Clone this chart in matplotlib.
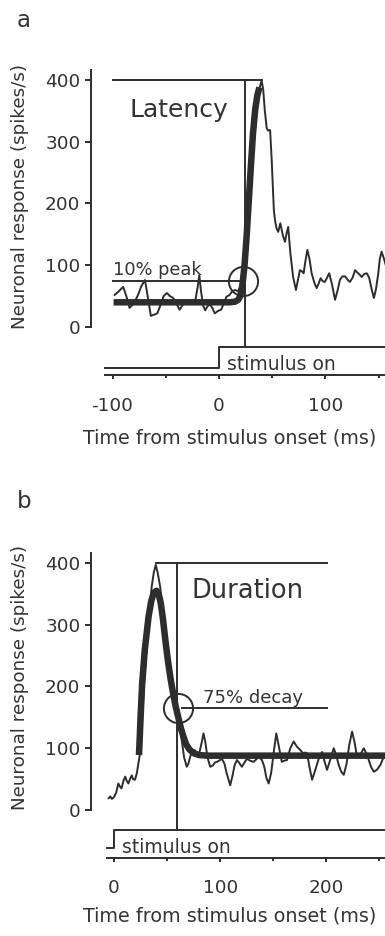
import matplotlib
matplotlib.use('Agg')
import matplotlib.pyplot as plt
from matplotlib.ticker import FixedLocator

plt.rcParams['font.family'] = ['DejaVu Sans']
plt.rcParams['axes.unicode_minus'] = False

# ---------------- data ----------------
# Panel a: raw response (time ms, spikes/s)
a_raw_t = [-98, -94, -90, -87, -84, -80, -76, -73, -69.5, -67, -64, -61, -58, -55, -52, -49, -46, -43,
           -40, -37, -34, -31, -28, -25, -22, -20, -18.5, -17, -15, -13, -11, -8.5, -6, -4, -1, 2, 5, 7,
           10, 12, 15, 18, 20, 22, 24, 26, 29, 31, 34, 37, 40, 41.5, 43, 44.8, 46, 48, 49.5, 51.5, 52.6,
           54, 55.6, 57.6, 60, 62, 63.5, 65, 67, 69.6, 72.3, 74, 76, 78, 79.5, 81, 83, 85, 87, 89.5,
           91.7, 93.5, 95.4, 97.5, 99.4, 101.5, 103.5, 106, 109, 111.5, 113.7, 116, 118.4, 121, 123,
           125.5, 127.8, 130, 132, 134, 136.5, 138.7, 141, 143.5, 145.5, 147.5, 149.6, 151, 152.7, 155, 157]
a_raw_r = [52, 58, 65, 50, 31, 38, 52, 66, 76, 50, 18, 20, 22, 35, 50, 55, 50, 47,
           38, 28, 36, 42, 38, 37, 45, 65, 84, 60, 35, 27, 33, 37, 30, 22, 26, 28, 40, 49,
           52, 57, 60, 58, 65, 80, 110, 160, 217, 265, 324, 379, 399, 385, 351, 322, 318, 319, 270, 190, 173,
           160, 154, 168, 148, 138, 152, 162, 120, 81, 60, 75, 92, 90, 87, 105, 125, 110, 87, 72,
           63, 70, 79, 74, 73, 80, 87, 70, 44, 60, 77, 82, 82, 76, 73,
           80, 92, 88, 85, 81, 86, 87, 80, 60, 47, 62, 87, 110, 122, 110, 98]
# Panel a: fitted latency curve
a_fit_t = [-99, 0, 10, 15, 18, 20, 22, 24, 26, 28, 30, 32, 34, 36, 38]
a_fit_r = [40, 40, 40, 41, 44, 50, 68, 100, 148, 205, 262, 315, 352, 375, 388]

# Panel b: raw response
b_raw_t = [-5, -3.5, -2, 0, 2, 4, 5.5, 7, 9, 10.5, 12, 13.5, 15, 16.7, 18, 19.8, 21.5, 23, 24.5, 27, 30,
           33, 35.5, 37.5, 39.3, 41, 43.4, 46, 49, 52, 55, 58, 60, 62, 64, 66, 68.5, 70, 72, 74, 76, 78,
           80, 82, 84.3, 86, 88, 90.6, 93, 95, 97, 99, 101.6, 104, 106, 109.4, 111.5, 113.5, 115.7, 118,
           120.4, 122.5, 125.2, 128, 131.4, 134, 136, 139.3, 141.5, 143.5, 145.6, 148, 150.5, 152.8, 155,
           158, 160.5, 162.9, 166, 169.2, 172, 175.5, 178, 180, 181.8, 184, 186.5, 189, 192.8, 196, 198,
           200.6, 203, 206.9, 209, 211.6, 214, 216.4, 219, 221.5, 224.2, 226.5, 228.9, 232, 235.2, 237.5,
           239.9, 242, 244.6, 247.5, 250.9, 253, 255.6]
b_raw_r = [19, 22, 18, 21, 28, 43, 38, 35, 48, 54, 47, 43, 50, 56, 50, 49, 60, 76, 92, 170, 250,
           320, 362, 385, 397, 385, 362, 320, 272, 230, 195, 165, 145, 135, 110, 85, 70, 75, 88, 95, 97, 92,
           90, 105, 124, 110, 85, 70, 72, 77, 78, 80, 83, 75, 60, 40, 55, 72, 81, 76,
           70, 76, 83, 80, 78, 82, 86, 81, 70, 52, 43, 60, 95, 124, 105,
           78, 80, 81, 100, 111, 103, 97, 92, 93, 92, 70, 49, 62, 83, 94, 80,
           65, 78, 100, 90, 73, 62, 57, 75, 105, 127, 110, 86, 90, 100, 92,
           81, 70, 62, 65, 73, 82, 89]
# Panel b: fitted duration curve
b_fit_t = [23.5, 25, 26.5, 29, 32.5, 35, 37.5, 40, 42, 44, 46, 48, 50.5, 53, 55.5, 58, 60.5, 63, 65.5,
           68, 71, 75, 80, 88, 256]
b_fit_r = [89, 150, 205, 260, 313, 338, 352, 355, 350, 335, 310, 280, 245, 215, 190, 168, 150, 132, 118,
           106, 98, 92, 89, 88, 88]

# stimulus trace (time, level below axis)
a_stim_t = [-107, 0, 0, 157]
a_stim_y = [-67, -67, -32.4, -32.4]
b_stim_t = [-6.6, 0, 0, 257]
b_stim_y = [-62, -62, -32.4, -32.4]

# criterion markers
a_peak = 400
a_crit_t, a_crit_r = 22.8, 75        # 10% of peak
b_peak = 400
b_crit_t, b_crit_r = 60, 165         # 75% decay

y_ticks = [0, 100, 200, 300, 400]
a_xmajor = [-100, 0, 100]
a_xminor = [-50, 50, 150]
b_xmajor = [0, 100, 200]
b_xminor = [50, 150, 250]

# ---------------- drawing ----------------
LC = '#2d2d2d'
TC = '#333333'
W, H = 385, 936
fig = plt.figure(figsize=(W / 100, H / 100), dpi=100)


def make_axes(top_px, bottom_px, xlim, ylim, xbounds, xmajor, xminor):
    ax = fig.add_axes([91 / W, (H - bottom_px) / H, 294 / W, (bottom_px - top_px) / H])
    ax.set_xlim(*xlim)
    ax.set_ylim(*ylim)
    for s in ['top', 'right']:
        ax.spines[s].set_visible(False)
    for s in ['left', 'bottom']:
        ax.spines[s].set_linewidth(1.4)
        ax.spines[s].set_color(LC)
    ax.spines['left'].set_bounds(0, 416)
    ax.spines['bottom'].set_bounds(*xbounds)
    ax.set_yticks(y_ticks)
    ax.set_xticks(xmajor)
    ax.xaxis.set_minor_locator(FixedLocator(xminor))
    ax.tick_params(axis='y', length=4.3, width=1.4, color=LC, pad=3.3, labelsize=13.3, labelcolor=TC)
    ax.tick_params(axis='x', which='major', length=3.2, width=1.4, color=LC, pad=12.3,
                   labelsize=13.3, labelcolor=TC)
    ax.tick_params(axis='x', which='minor', length=2.4, width=1.4, color=LC)
    ax.patch.set_visible(False)
    return ax


# Panel a
axa = make_axes(67.6, 375, (-120.2, 155.9), (-77.7, 420), (-107, 155.9), a_xmajor, a_xminor)
axa.plot(a_raw_t, a_raw_r, color=LC, lw=1.4, solid_joinstyle='round')
axa.plot(a_fit_t, a_fit_r, color=LC, lw=4.7, solid_capstyle='butt', solid_joinstyle='round')
axa.plot([-99.2, 40.1], [a_peak, a_peak], color=LC, lw=1.4)
axa.plot([24.4, 24.4], [a_peak, -32.4], color=LC, lw=1.4)
axa.plot([-99.2, 19.7], [a_crit_r, a_crit_r], color=LC, lw=1.4)
axa.plot([a_crit_t], [a_crit_r], 'o', ms=21, mfc='none', mec=LC, mew=1.4)
axa.plot(a_stim_t, a_stim_y, color=LC, lw=1.4)
axa.text(-83.6, 340.6, 'Latency', fontsize=18, color=TC, va='baseline', ha='left')
axa.text(-99.5, 84.2, '10% peak', fontsize=12.8, color=TC, va='baseline', ha='left')
axa.text(7.5, -69.6, 'stimulus on', fontsize=13.5, color=TC, va='baseline', ha='left')

# Panel b
axb = make_axes(550.6, 857.7, (-21.7, 255.2), (-77.2, 420), (-6.6, 255.2), b_xmajor, b_xminor)
axb.plot(b_raw_t, b_raw_r, color=LC, lw=1.4, solid_joinstyle='round')
axb.plot(b_fit_t, b_fit_r, color=LC, lw=4.7, solid_capstyle='butt', solid_joinstyle='round')
axb.plot([39.3, 200.6], [b_peak, b_peak], color=LC, lw=1.4)
axb.plot([59.3, 59.3], [b_peak, -32.4], color=LC, lw=1.4)
axb.plot([63.7, 200.6], [b_crit_r, b_crit_r], color=LC, lw=1.4)
axb.plot([b_crit_t], [b_crit_r], 'o', ms=21, mfc='none', mec=LC, mew=1.4)
axb.plot(b_stim_t, b_stim_y, color=LC, lw=1.4)
axb.text(73.2, 343.3, 'Duration', fontsize=18.5, color=TC, va='baseline', ha='left')
axb.text(83.8, 173.8, '75% decay', fontsize=13, color=TC, va='baseline', ha='left')
axb.text(7.3, -69.6, 'stimulus on', fontsize=13.5, color=TC, va='baseline', ha='left')

# labels
fig.text(16.7 / W, 1 - 26.7 / H, 'a', fontsize=16.5, color=TC, va='baseline', ha='left')
fig.text(16.7 / W, 1 - 508 / H, 'b', fontsize=16.5, color=TC, va='baseline', ha='left')
for yc in (196, 677):
    fig.text(20 / W, 1 - yc / H, 'Neuronal response (spikes/s)', fontsize=13.2, color=TC,
             rotation=90, va='center', ha='center')
for yb in (443.5, 921.5):
    fig.text(229.5 / W, 1 - yb / H, 'Time from stimulus onset (ms)', fontsize=13.8, color=TC,
             va='baseline', ha='center')

fig.savefig('out.png', dpi=100)
